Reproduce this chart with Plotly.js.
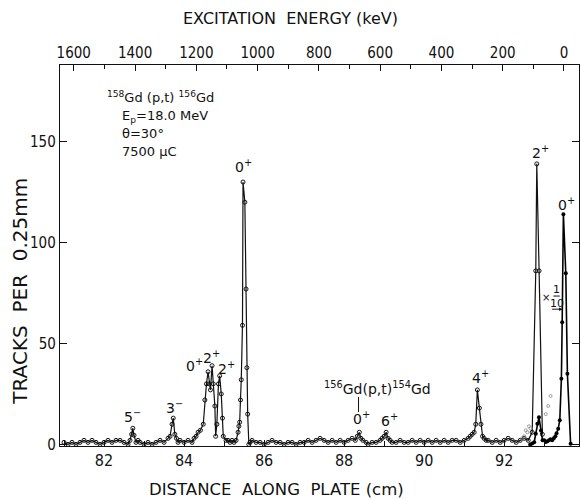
<!DOCTYPE html>
<html><head><meta charset="utf-8">
<script src="https://cdn.plot.ly/plotly-3.0.1.min.js"></script>
<style>html,body{margin:0;padding:0;background:#fff}#chart{width:581px;height:499px}</style>
</head><body><div id="chart"></div>
<script>
// Open-circle spectrum (tracks per 0.25 mm vs distance along plate, cm)
const distOpen = [
  81.0,81.1,81.2,81.3,81.4,81.5,81.6,81.7,81.8,81.9,82.0,82.1,82.2,82.3,82.4,82.5,82.6,82.65,
  82.69,82.72,82.75,82.8,82.85,82.9,83.0,83.1,83.2,83.3,83.4,83.5,83.6,83.65,
  83.7,83.73,83.77,83.81,83.85,83.9,84.0,84.1,84.2,84.25,84.3,84.35,84.41,84.48,
  84.52,84.56,84.60,84.63,84.66,84.70,84.73,84.77,84.79,84.82,84.86,84.89,84.93,84.96,84.98,
  85.05,85.1,85.15,85.2,85.25,85.3,85.35,85.37,85.39,85.41,85.43,85.46,85.474,85.52,85.55,85.57,85.59,85.62,
  85.65,85.7,85.8,85.9,86.0,86.1,86.2,86.3,86.4,86.5,86.6,86.7,86.8,86.9,87.0,87.1,87.2,87.3,87.4,87.5,
  87.6,87.7,87.8,87.9,88.0,88.1,88.2,88.28,88.33,88.38,88.42,88.47,88.55,88.6,88.7,88.8,88.9,88.95,
  89.0,89.05,89.1,89.15,89.2,89.3,89.4,89.5,89.6,89.7,89.8,89.9,90.0,90.1,90.2,90.3,90.4,90.5,90.6,
  90.7,90.8,90.9,91.0,91.1,91.15,91.2,91.25,91.29,91.33,91.38,91.42,91.46,91.5,91.55,91.6,91.7,91.8,
  91.9,92.0,92.1,92.2,92.3,92.4,92.5,92.6,92.7,92.79,92.815,92.873,92.955
];
const tracksOpen = [
  1,0,1,0,1,2,1,2,1,0,1,2,1,2,2,1,0,2,
  5,8,4.5,1,2,1,0,1,0,1,2,1,3,4,
  10,13,5,3,1,2,1,2,1,3,4,6,7,10,
  22,30,36,30,27,39,30,19,4,10,30,34,25,13,4,
  2,2,1,2,1,2,6,9,11,22,32,59,130,120,77,38,15,0,
  1,2,1,1,0,1,2,1,1,0,1,1,0,1,1,2,1,2,3,2,
  1,2,1,2,1,2,3,2,4,6,3,2,1,0,1,1,2,3,
  4,6,3,2,1,1,2,1,1,2,1,2,1,2,1,2,1,2,1,
  2,2,1,2,3,4,5,6,10,27,18,10,4,3,2,2,1,2,
  1,2,3,2,1,2,3,2,6,86,139,86,5
];
// Filled-circle spectrum, scaled x 1/10
const distScaled = [
  92.65,92.7,92.75,92.79,92.83,92.87,92.92,92.96,93.0,93.04,93.08,93.12,93.16,93.2,93.24,93.28,
  93.31,93.35,93.39,93.43,93.45,93.48,93.54,93.58,93.66
];
const tracksScaled = [
  0,0.5,1.1,5.3,10.2,13.5,6.9,2,2,1.2,1.5,2,2.5,2,3,4,
  5.5,7.8,11.9,32.5,60.5,114,84.8,35,0.3
];
// Faint unscaled points rising towards the ground state
const distTail = [92.45,92.5,92.54,92.58,92.62,92.66,93.04,93.1,93.16];
const tracksTail = [3,4,7,6,9,8,15,19,24];

const distTicks = [82,84,86,88,90,92];
const energyTicks = [1600,1400,1200,1000,800,600,400,200,0];
const trackTicks = [0,50,100,150];

const FONT = '"DejaVu Sans Condensed","DejaVu Sans",sans-serif';
const FONTR = '"DejaVu Sans",sans-serif';

const traces = [
  {x: distOpen, y: tracksOpen, type:'scatter', mode:'lines+markers',
   line:{color:'#111', width:1.2},
   marker:{symbol:'circle-open', size:4, color:'#111', line:{width:1}}, showlegend:false, hoverinfo:'skip'},
  {x: distTail, y: tracksTail, type:'scatter', mode:'markers',
   marker:{symbol:'circle-open', size:3, color:'#888', line:{width:0.8}}, showlegend:false, hoverinfo:'skip'},
  {x: distScaled, y: tracksScaled, type:'scatter', mode:'lines+markers',
   line:{color:'#000', width:1.6},
   marker:{symbol:'circle', size:4, color:'#000'}, showlegend:false, hoverinfo:'skip'}
];

const ann = (x,y,text,extra) => Object.assign({x:x,y:y,xref:'x',yref:'y',text:text,showarrow:false,
  font:{family:FONTR,size:14,color:'#111'}}, extra||{});

const annotations = [
  ann(82.72,14,'5<sup>−</sup>'),
  ann(83.75,18.5,'3<sup>−</sup>'),
  ann(84.26,39.5,'0<sup>+</sup>'),
  ann(84.68,43.5,'2<sup>+</sup>'),
  ann(85.06,38,'2<sup>+</sup>'),
  ann(85.48,138,'0<sup>+</sup>'),
  ann(88.83,28,'<sup>156</sup>Gd(p,t)<sup>154</sup>Gd'),
  ann(88.43,13,'0<sup>+</sup>'),
  ann(89.13,12,'6<sup>+</sup>'),
  ann(91.40,33.5,'4<sup>+</sup>'),
  ann(92.9,145,'2<sup>+</sup>'),
  ann(93.55,119,'0<sup>+</sup>'),
  ann(93.04,73,'×',{font:{family:FONTR,size:10,color:'#111'}}),
  ann(93.31,77,'1',{font:{family:FONTR,size:11,color:'#111'}}),
  ann(93.31,70,'10',{font:{family:FONTR,size:11,color:'#111'}}),
  {x:93.46,y:67,ax:93.16,ay:67,axref:'x',ayref:'y',xref:'x',yref:'y',text:'',showarrow:true,
   arrowhead:2,arrowsize:0.7,arrowwidth:1,arrowcolor:'#111'},
  ann(82.02,172,'<sup>158</sup>Gd (p,t) <sup>156</sup>Gd',{xanchor:'left',font:{family:FONTR,size:13,color:'#111'}}),
  ann(82.40,162.5,'E<sub>p</sub>=18.0 MeV',{xanchor:'left',font:{family:FONTR,size:13,color:'#111'}}),
  ann(82.40,154,'θ=30°',{xanchor:'left',font:{family:FONTR,size:13,color:'#111'}}),
  ann(82.40,145,'7500 µC',{xanchor:'left',font:{family:FONTR,size:13,color:'#111'}}),
  {xref:'paper',yref:'paper',x:0.418,y:-0.113,xanchor:'center',yanchor:'middle',
   text:'DISTANCE  ALONG  PLATE (cm)',showarrow:false,
   font:{family:FONTR,size:16.5,color:'#111'}},
  {xref:'paper',yref:'paper',x:-0.077,y:0.405,xanchor:'center',yanchor:'middle',
   text:'TRACKS  PER  0.25mm',textangle:-90,showarrow:false,
   font:{family:FONTR,size:20,color:'#111'}}
];

const shapes = [
  {type:'line',xref:'x',yref:'y',x0:88.36,x1:88.36,y0:23.5,y1:16,line:{color:'#111',width:1}},
  {type:'line',xref:'x',yref:'y',x0:93.23,x1:93.39,y0:73.5,y1:73.5,line:{color:'#111',width:1}}
];

const layout = {
  width:581, height:499,
  margin:{l:60, r:2, t:65, b:53},
  paper_bgcolor:'#fff', plot_bgcolor:'#fff',
  font:{family:FONT, size:14, color:'#111'},
  title:{text:'EXCITATION  ENERGY (keV)', x:0.5, xref:'container', y:0.963, yref:'container',
         yanchor:'middle', font:{family:FONTR,size:16,color:'#111'}},
  xaxis:{range:[80.9,93.87], tickvals:distTicks, ticks:'inside', ticklen:6, tickcolor:'#111',
         showline:true, linecolor:'#111', linewidth:1.2, showgrid:false, zeroline:false,
         minor:{dtick:1, ticks:'inside', ticklen:5, tickcolor:'#111'},
         tickfont:{family:FONT,size:16,color:'#111'}},
  xaxis2:{overlaying:'x', side:'top', anchor:'y', range:[1645,-49], tickvals:energyTicks,
          ticks:'inside', ticklen:6, tickcolor:'#111', showline:true, linecolor:'#111', linewidth:1.2,
          showgrid:false, zeroline:false,
          minor:{dtick:100, tick0:0, ticks:'inside', ticklen:4, tickcolor:'#111'},
          tickfont:{family:FONT,size:15,color:'#111'}},
  yaxis:{range:[-0.8,188], tickvals:trackTicks, ticks:'inside', ticklen:7, tickcolor:'#111',
         showline:true, linecolor:'#111', linewidth:1.2, mirror:'ticks', showgrid:false, zeroline:false,
         tickfont:{family:FONT,size:15,color:'#111'}},
  annotations:annotations,
  shapes:shapes,
  showlegend:false
};
traces.push({x:[], y:[], xaxis:'x2', yaxis:'y', type:'scatter', mode:'markers', showlegend:false, hoverinfo:'skip'});
Plotly.newPlot('chart', traces, layout, {staticPlot:true, displayModeBar:false});
</script></body></html>
